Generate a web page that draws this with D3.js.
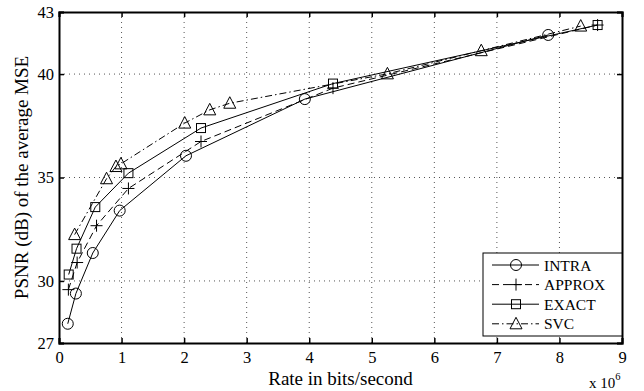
<!DOCTYPE html>
<html lang="en">
<head>
<meta charset="UTF-8">
<script src="https://d3js.org/d3.v7.min.js"></script>
<title>PSNR vs rate</title>
<style>
  body { margin: 0; background: #fff; }
  svg text { font-family: "Liberation Serif", "Times New Roman", Times, serif; fill: #000; }
</style>
</head>
<body>
<div id="chart"></div>
<script>
// data (rate in 10^6 bits/s, PSNR in dB)
const intraRate  = [0.14, 0.27, 0.54, 0.97, 2.03, 3.93, 7.82];
const intraPsnr  = [27.93, 29.39, 31.35, 33.40, 36.05, 38.79, 41.89];
const approxRate = [0.15, 0.29, 0.60, 1.11, 2.27, 4.38, 8.61];
const approxPsnr = [29.58, 30.89, 32.67, 34.47, 36.74, 39.32, 42.37];
const exactRate  = [0.155, 0.28, 0.58, 1.11, 2.27, 4.38, 8.61];
const exactPsnr  = [30.31, 31.56, 33.57, 35.21, 37.39, 39.54, 42.37];
const svcRate    = [0.25, 0.76, 0.91, 0.99, 2.01, 2.41, 2.73, 5.25, 6.75, 8.34];
const svcPsnr    = [32.24, 34.94, 35.53, 35.66, 37.63, 38.27, 38.59, 40.01, 41.13, 42.32];
const seriesNames = ["INTRA", "APPROX", "EXACT", "SVC"];
const xTicks = [0, 1, 2, 3, 4, 5, 6, 7, 8, 9];
const yTicks = [27, 30, 35, 40, 43];

const W = 644, H = 391;
const margin = {top: 12, right: 22, bottom: 48, left: 59};
const width = W - margin.left - margin.right,
      height = H - margin.top - margin.bottom;

const svg = d3.select("#chart").append("svg")
  .attr("width", W).attr("height", H);
const g = svg.append("g").attr("transform", "translate(" + margin.left + "," + margin.top + ")");

const x = d3.scaleLinear().domain([0, 9]).range([0, width]);
const y = d3.scaleLinear().domain([27, 43]).range([height, 0]);

// dotted grid
g.append("g").selectAll("line").data(xTicks.slice(1, -1)).enter().append("line")
  .attr("x1", d => x(d)).attr("x2", d => x(d)).attr("y1", 0).attr("y2", height)
  .attr("stroke", "#555").attr("stroke-width", 1).attr("stroke-dasharray", "1,4");
g.append("g").selectAll("line").data(yTicks.slice(1, -1)).enter().append("line")
  .attr("y1", d => y(d)).attr("y2", d => y(d)).attr("x1", 0).attr("x2", width)
  .attr("stroke", "#555").attr("stroke-width", 1).attr("stroke-dasharray", "1,4");

// axes with inward ticks
const fmt = d3.format("d");
const xAxis = g.append("g").attr("transform", "translate(0," + height + ")")
  .call(d3.axisBottom(x).tickValues(xTicks).tickSize(-5).tickPadding(8).tickFormat(fmt));
const xTop = g.append("g")
  .call(d3.axisTop(x).tickValues(xTicks).tickSize(-5).tickFormat(""));
const yAxis = g.append("g")
  .call(d3.axisLeft(y).tickValues(yTicks).tickSize(-5).tickPadding(5).tickFormat(fmt));
const yRight = g.append("g").attr("transform", "translate(" + width + ",0)")
  .call(d3.axisRight(y).tickValues(yTicks).tickSize(-5).tickFormat(""));
[xAxis, xTop, yAxis, yRight].forEach(a => {
  a.attr("font-family", null);
  a.select(".domain").attr("stroke", "#000").attr("stroke-width", 2);
  a.selectAll(".tick line").attr("stroke", "#000").attr("stroke-width", 1.5);
  a.selectAll(".tick text").style("font-size", "16.5px").attr("fill", "#000");
});

// series
const series = [
  {name: seriesNames[0], rate: intraRate,  psnr: intraPsnr,  dash: null,        marker: "circle"},
  {name: seriesNames[1], rate: approxRate, psnr: approxPsnr, dash: "7,4",       marker: "plus"},
  {name: seriesNames[2], rate: exactRate,  psnr: exactPsnr,  dash: null,        marker: "square"},
  {name: seriesNames[3], rate: svcRate,    psnr: svcPsnr,    dash: "7,3,1.5,3", marker: "triangle"}
];

function drawMarker(sel, type, cx, cy) {
  const m = sel.append("g").attr("transform", "translate(" + cx + "," + cy + ")")
    .attr("fill", "none").attr("stroke", "#000").attr("stroke-width", 1);
  if (type === "circle") m.append("circle").attr("r", 5.5);
  else if (type === "square") m.append("rect").attr("x", -4.5).attr("y", -4.5).attr("width", 9).attr("height", 9);
  else if (type === "triangle") m.append("path").attr("d", "M0,-6.5L6,5L-6,5Z");
  else if (type === "plus") m.append("path").attr("d", "M-6,0H6M0,-6V6");
}

const line = d3.line().x(d => x(d[0])).y(d => y(d[1]));
series.forEach(s => {
  const pts = s.rate.map((r, i) => [r, s.psnr[i]]);
  g.append("path").datum(pts).attr("d", line)
    .attr("fill", "none").attr("stroke", "#000").attr("stroke-width", 1)
    .attr("stroke-dasharray", s.dash);
  pts.forEach(p => drawMarker(g, s.marker, x(p[0]), y(p[1])));
});

// legend
const lg = svg.append("g").attr("transform", "translate(483,253)");
lg.append("rect").attr("width", 139).attr("height", 83)
  .attr("fill", "#fff").attr("stroke", "#000").attr("stroke-width", 1);
series.forEach((s, i) => {
  const ly = 12 + i * 19.6;
  lg.append("line").attr("x1", 9).attr("x2", 56).attr("y1", ly).attr("y2", ly)
    .attr("stroke", "#000").attr("stroke-width", 1).attr("stroke-dasharray", s.dash);
  drawMarker(lg, s.marker, 33, ly);
  lg.append("text").attr("x", 61).attr("y", ly + 5.5).style("font-size", "15.5px").text(s.name);
});

// axis labels
svg.append("text").attr("text-anchor", "middle")
  .attr("x", margin.left + width / 2).attr("y", 385)
  .style("font-size", "19px").text("Rate in bits/second");
svg.append("text").attr("text-anchor", "middle")
  .attr("transform", "translate(28," + (margin.top + height / 2) + ") rotate(-90)")
  .style("font-size", "19px").text("PSNR (dB) of the average MSE");
const ex = svg.append("text").attr("x", 589).attr("y", 388).style("font-size", "15px");
ex.append("tspan").text("x 10");
ex.append("tspan").attr("dy", -8).style("font-size", "10.5px").text("6");
</script>
</body>
</html>
